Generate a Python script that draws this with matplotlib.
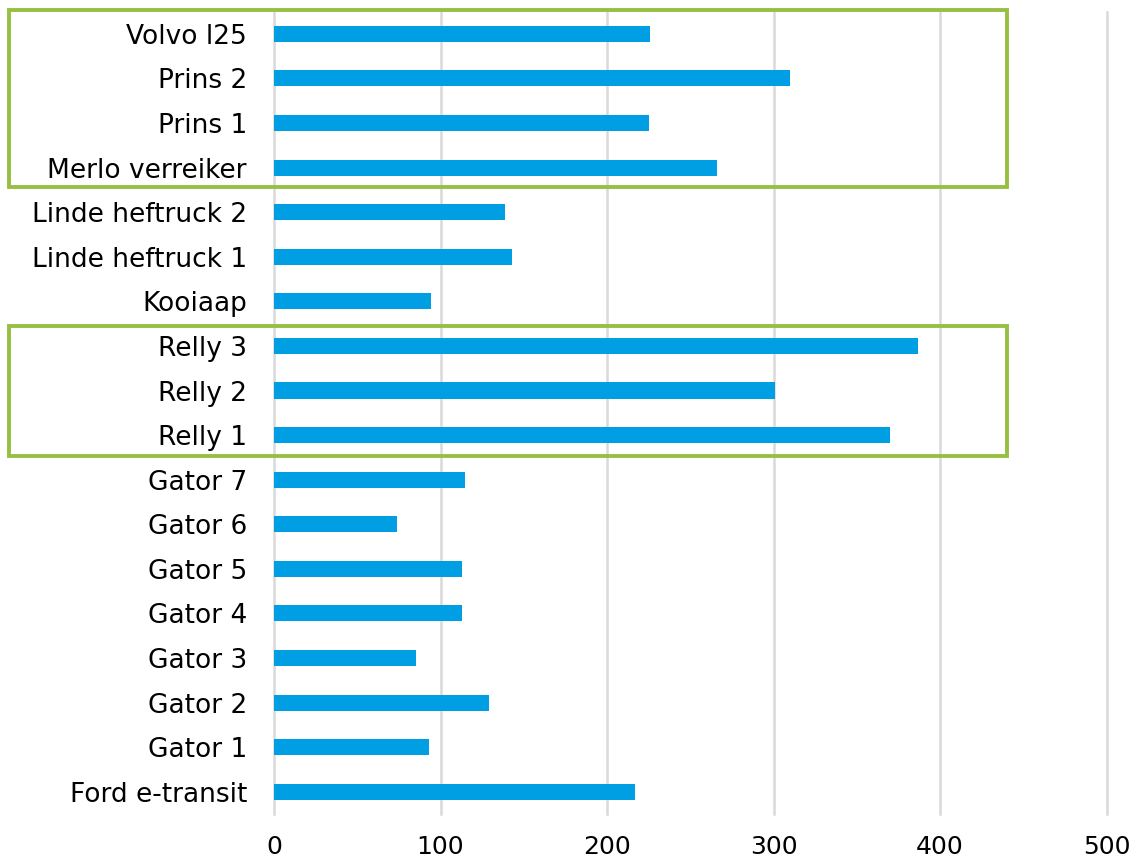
import matplotlib
matplotlib.use("Agg")
import matplotlib.pyplot as plt
from matplotlib.patches import Rectangle

# Data (bottom to top)
categories = ["Ford e-transit", "Gator 1", "Gator 2", "Gator 3", "Gator 4", "Gator 5",
              "Gator 6", "Gator 7", "Relly 1", "Relly 2", "Relly 3", "Kooiaap",
              "Linde heftruck 1", "Linde heftruck 2", "Merlo verreiker", "Prins 1",
              "Prins 2", "Volvo l25"]
values = [217, 93, 129, 85, 113, 113, 74, 115, 370, 301, 387, 94,
          143, 139, 266, 225, 310, 226]
xticks = [0, 100, 200, 300, 400, 500]
# highlighted groups (first and last category of each box)
highlight_groups = [("Relly 1", "Relly 3"), ("Merlo verreiker", "Volvo l25")]

BAR = "#009FE3"
GREEN = "#97C043"
GRID = "#D9D9D9"

W, H = 1135, 864
fig = plt.figure(figsize=(W / 100, H / 100), dpi=100)
ax = fig.add_axes([274 / W, (H - 814) / H, (1106.5 - 274) / W, (814 - 11.6) / H])

ypos = list(range(len(categories)))
ax.barh(ypos, values, height=0.36, color=BAR, zorder=3)

ax.set_xlim(0, 500)
ax.set_ylim(-0.5, len(categories) - 0.5)
ax.set_xticks(xticks)
ax.set_xticklabels([str(t) for t in xticks])
ax.set_yticks(ypos)
ax.set_yticklabels(categories)
ax.tick_params(axis="both", length=0, colors="#000000")
ax.tick_params(axis="y", pad=19.5, labelsize=19)
ax.tick_params(axis="x", pad=15, labelsize=18)
for s in ax.spines.values():
    s.set_visible(False)
ax.grid(axis="x", color=GRID, linewidth=1.8, zorder=0)
ax.set_axisbelow(True)
for gl in ax.get_xgridlines():
    gl.set_clip_on(False)

# green highlight boxes (extend into label area)
x_left = (9 - 274) / 166.5 * 100
x_right = 440.5
offsets = {("Relly 1", "Relly 3"): (0.474, 0.456), ("Merlo verreiker", "Volvo l25"): (0.445, 0.537)}
for lo, hi in highlight_groups:
    i0, i1 = categories.index(lo), categories.index(hi)
    ob, ot = offsets[(lo, hi)]
    y0 = i0 - ob
    y1 = i1 + ot
    r = Rectangle((x_left, y0), x_right - x_left, y1 - y0, fill=False,
                  edgecolor=GREEN, linewidth=2.8, clip_on=False, zorder=5)
    ax.add_patch(r)

fig.savefig("out.png", dpi=100)
